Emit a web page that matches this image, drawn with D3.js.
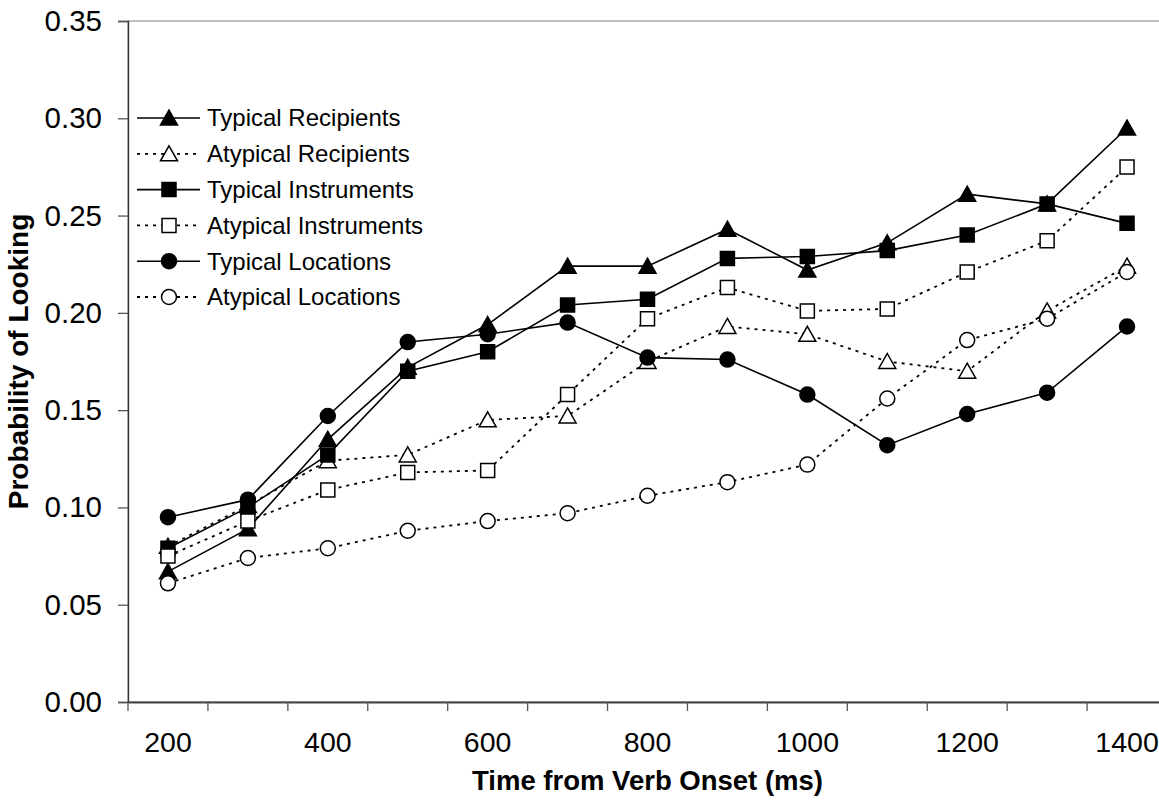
<!DOCTYPE html>
<html>
<head>
<meta charset="utf-8">
<script src="https://cdn.jsdelivr.net/npm/d3@7"></script>
<style>
  body { margin: 0; background: #fff; }
  svg { display: block; font-family: Arial, "Liberation Sans", sans-serif; }
</style>
</head>
<body>
<svg width="1159" height="800"></svg>
<script>
// The data
const times = [200, 300, 400, 500, 600, 700, 800, 900, 1000, 1100, 1200, 1300, 1400];
const xLabels = [200, 400, 600, 800, 1000, 1200, 1400];
const yTicks = [0, 0.05, 0.1, 0.15, 0.2, 0.25, 0.3, 0.35];

const typicalRecipients = [0.067, 0.089, 0.135, 0.172, 0.194, 0.224, 0.224, 0.243, 0.222, 0.236, 0.261, 0.256, 0.295];
const atypicalRecipients = [0.080, 0.101, 0.124, 0.127, 0.145, 0.147, 0.175, 0.193, 0.189, 0.175, 0.170, 0.201, 0.224];
const typicalInstruments = [0.079, 0.100, 0.127, 0.170, 0.180, 0.204, 0.207, 0.228, 0.229, 0.232, 0.240, 0.256, 0.246];
const atypicalInstruments = [0.075, 0.093, 0.109, 0.118, 0.119, 0.158, 0.197, 0.213, 0.201, 0.202, 0.221, 0.237, 0.275];
const typicalLocations = [0.095, 0.104, 0.147, 0.185, 0.189, 0.195, 0.177, 0.176, 0.158, 0.132, 0.148, 0.159, 0.193];
const atypicalLocations = [0.061, 0.074, 0.079, 0.088, 0.093, 0.097, 0.106, 0.113, 0.122, 0.156, 0.186, 0.197, 0.221];

const seriesNames = ['Typical Recipients', 'Atypical Recipients', 'Typical Instruments',
  'Atypical Instruments', 'Typical Locations', 'Atypical Locations'];
const seriesValues = [typicalRecipients, atypicalRecipients, typicalInstruments,
  atypicalInstruments, typicalLocations, atypicalLocations];
const seriesShapes = ['triangle', 'triangle', 'square', 'square', 'circle', 'circle'];
const seriesFilled = [true, false, true, false, true, false];

const series = seriesNames.map((name, i) => ({
  name: name,
  shape: seriesShapes[i],
  filled: seriesFilled[i],
  values: seriesValues[i].map((v, j) => ({ t: times[j], v: v }))
}));

// The svg
const svg = d3.select('svg');
const plotLeft = 128, plotRight = 1167, plotTop = 21, plotBottom = 702;

const x = d3.scaleBand().domain(times).range([plotLeft, plotRight]);
const y = d3.scaleLinear().domain([0, 0.35]).range([plotBottom, plotTop]);

// plot frame (right edge runs off the picture)
svg.append('rect')
  .attr('x', plotLeft).attr('y', plotTop)
  .attr('width', plotRight - plotLeft).attr('height', plotBottom - plotTop)
  .attr('fill', 'none').attr('stroke', '#808080').attr('stroke-width', 1);

// y axis
const gy = svg.append('g').attr('transform', `translate(${plotLeft},0)`)
  .call(d3.axisLeft(y).tickValues(yTicks).tickFormat(d3.format('.2f')).tickSize(10).tickPadding(16));
gy.select('.domain').attr('stroke', '#333').attr('stroke-width', 1.3);
gy.selectAll('.tick line').attr('stroke', '#555').attr('stroke-width', 1.3);
gy.selectAll('.tick text').attr('font-size', 29.5).attr('fill', '#000')
  .attr('font-family', 'Arial, "Liberation Sans", sans-serif');

// x axis: labels on every other category, ticks between categories
const gx = svg.append('g').attr('transform', `translate(0,${plotBottom})`)
  .call(d3.axisBottom(x).tickValues(xLabels).tickSize(0).tickPadding(30));
gx.select('.domain').attr('stroke', '#444').attr('stroke-width', 2);
gx.selectAll('.tick text').attr('font-size', 28.5).attr('fill', '#000')
  .attr('font-family', 'Arial, "Liberation Sans", sans-serif');
gx.selectAll('line.sep')
  .data(times.map(t => x(t)).concat([plotRight]))
  .enter().append('line')
  .attr('class', 'sep')
  .attr('x1', d => d).attr('x2', d => d)
  .attr('y1', 0).attr('y2', 9)
  .attr('stroke', '#555').attr('stroke-width', 1.3);

// axis titles
svg.append('text')
  .attr('x', (plotLeft + plotRight) / 2).attr('y', 790)
  .attr('text-anchor', 'middle')
  .attr('font-size', 27.5).attr('font-weight', 'bold')
  .text('Time from Verb Onset (ms)');
svg.append('text')
  .attr('transform', `translate(28,${(plotTop + plotBottom) / 2}) rotate(-90)`)
  .attr('text-anchor', 'middle')
  .attr('font-size', 28).attr('font-weight', 'bold')
  .text('Probability of Looking');

// marker shapes
function markerPath(shape) {
  if (shape === 'triangle') return 'M0,-8L8.5,7L-8.5,7Z';
  if (shape === 'square') return 'M-7,-7H7V7H-7Z';
  return d3.symbol(d3.symbolCircle, Math.PI * 7.5 * 7.5)();
}

const cx = t => x(t) + x.bandwidth() / 2;
const line = d3.line().x(d => cx(d.t)).y(d => y(d.v));

// Draw the lines and markers
series.forEach(s => {
  const g = svg.append('g');
  g.append('path')
    .datum(s.values)
    .attr('d', line)
    .attr('fill', 'none')
    .attr('stroke', '#000')
    .attr('stroke-width', s.filled ? 1.6 : 1.8)
    .attr('stroke-dasharray', s.filled ? null : '3,5');
  g.selectAll('path.mark')
    .data(s.values)
    .enter().append('path')
    .attr('class', 'mark')
    .attr('transform', d => `translate(${cx(d.t)},${y(d.v)})`)
    .attr('d', markerPath(s.shape))
    .attr('fill', s.filled ? '#000' : '#fff')
    .attr('stroke', '#000')
    .attr('stroke-width', 1.5);
});

// legend
const legend = svg.append('g').attr('transform', 'translate(137,118)');
const rows = legend.selectAll('g')
  .data(series)
  .enter().append('g')
  .attr('transform', (d, i) => `translate(0,${i * 35.8})`);
rows.append('line')
  .attr('x1', 0).attr('x2', 63).attr('y1', 0).attr('y2', 0)
  .attr('stroke', '#000')
  .attr('stroke-width', d => d.filled ? 1.6 : 1.8)
  .attr('stroke-dasharray', d => d.filled ? null : '3,5');
rows.append('path')
  .attr('transform', 'translate(32,0)')
  .attr('d', d => markerPath(d.shape))
  .attr('fill', d => d.filled ? '#000' : '#fff')
  .attr('stroke', '#000').attr('stroke-width', 1.5);
rows.append('text')
  .attr('x', 70).attr('y', 0).attr('dy', '0.35em')
  .attr('font-size', 24)
  .text(d => d.name);
</script>
</body>
</html>
